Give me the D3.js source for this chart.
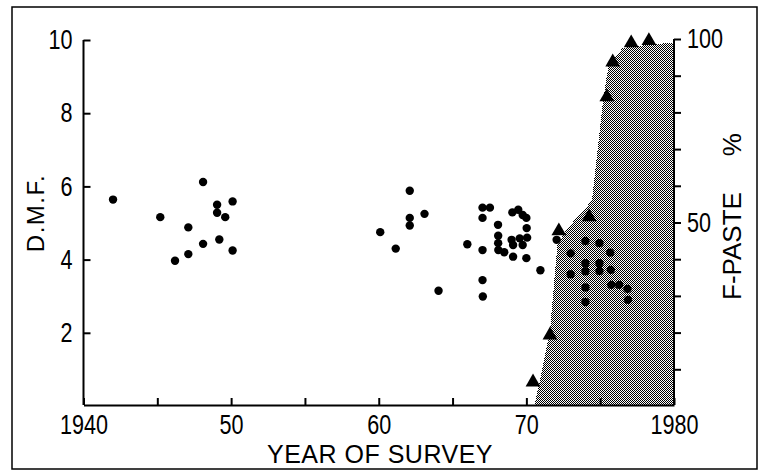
<!DOCTYPE html>
<html>
<head>
<meta charset="utf-8">
<script src="https://cdn.jsdelivr.net/npm/d3@7"></script>
<style>
  body { margin: 0; background: #fff; }
  svg { display: block; }
</style>
</head>
<body>
<div id="container"></div>
<script>
let w = 761;
let h = 473;

// D.M.F. per survey (filled dots)
let dmfYears = [1942.0, 1945.2, 1946.2, 1947.1, 1947.1, 1948.1, 1948.1, 1949.05, 1949.05, 1949.2, 1949.6, 1950.1, 1950.1,
  1960.1, 1961.15, 1962.1, 1962.1, 1962.1, 1963.1, 1964.05, 1966.0,
  1967.03, 1967.53, 1967.03, 1967.03, 1967.03, 1967.05, 1968.08, 1968.09, 1968.09, 1968.1, 1968.5,
  1969.05, 1969.45, 1969.75, 1970.0, 1970.02, 1969.0, 1969.55, 1970.05, 1969.1, 1969.75, 1969.1, 1970.0, 1970.95,
  1972.05, 1973.0, 1973.0, 1974.0, 1974.0, 1974.0, 1974.0, 1974.0, 1974.95, 1974.95, 1974.95,
  1975.68, 1975.72, 1975.75, 1976.28, 1976.85, 1976.88];
let dmfValues = [5.64, 5.16, 3.97, 4.88, 4.15, 6.12, 4.43, 5.50, 5.28, 4.55, 5.16, 5.59, 4.25,
  4.75, 4.30, 5.88, 5.14, 4.93, 5.25, 3.15, 4.42,
  5.42, 5.42, 5.14, 4.26, 3.44, 2.99, 4.95, 4.65, 4.45, 4.26, 4.20,
  5.29, 5.36, 5.22, 5.14, 4.86, 4.54, 4.58, 4.60, 4.40, 4.40, 4.08, 4.04, 3.71,
  4.54, 4.17, 3.60, 4.51, 3.90, 3.68, 3.24, 2.84, 4.45, 3.90, 3.69,
  4.19, 3.72, 3.31, 3.31, 3.20, 2.90];

// F-paste share (triangles, right axis)
let pasteYears = [1970.45, 1971.6, 1972.2, 1974.25, 1975.45, 1975.85, 1977.1, 1978.3];
let pastePct = [6.5, 19.3, 47.7, 51.5, 84.2, 93.7, 98.9, 99.5];

// outline of the shaded F-paste area
let shadeYears = [1970.55, 1971.6, 1972.1, 1972.8, 1974.45, 1975.2, 1975.55, 1976.5, 1978.3, 1980];
let shadePct = [0, 20.5, 44, 48.5, 56, 83.5, 92.5, 97.5, 98.5, 99];

let yearTicks = [1940, 1945, 1950, 1955, 1960, 1965, 1970, 1975, 1980];
let yearLabels = {1940: "1940", 1950: "50", 1960: "60", 1970: "70", 1980: "1980"};
let dmfTicks = [2, 4, 6, 8, 10];
let pasteTicks = [10, 20, 30, 40, 50, 60, 70, 80, 90, 100];
let pasteLabels = {50: "50", 100: "100"};

let plain = "'Liberation Sans', Arial, sans-serif";
let squeeze = 0.8; // tick digits are a narrow face in the original

let viz = d3.select("#container").append("svg")
    .attr("width", w)
    .attr("height", h)
    .style("background-color", "white");

// outer frame
viz.append("rect")
    .attr("x", 12).attr("y", 7)
    .attr("width", 745).attr("height", 462)
    .attr("fill", "none")
    .attr("stroke", "black")
    .attr("stroke-width", 1.5);

let x = d3.scaleLinear().domain([1940, 1980]).range([83.5, 674]);
let yL = d3.scaleLinear().domain([0, 10]).range([406, 40]);
let yR = d3.scaleLinear().domain([0, 100]).range([406, 39]);

// halftone pattern
let pat = viz.append("defs").append("pattern")
    .attr("id", "halftone")
    .attr("patternUnits", "userSpaceOnUse")
    .attr("width", 2).attr("height", 2);
pat.append("rect").attr("x", 0).attr("y", 0).attr("width", 1).attr("height", 1).attr("fill", "black");
pat.append("rect").attr("x", 1).attr("y", 1).attr("width", 1).attr("height", 1).attr("fill", "black");

let shadeData = shadeYears.map(function(d, i) { return {year: d, pct: shadePct[i]}; });
let areaMaker = d3.area()
    .x(function(d) { return x(d.year); })
    .y0(yR(0))
    .y1(function(d) { return yR(d.pct); });

viz.append("path")
    .datum(shadeData)
    .attr("d", areaMaker)
    .attr("fill", "url(#halftone)")
    .attr("shape-rendering", "crispEdges");

// axes
let xAxis = d3.axisBottom(x)
    .tickValues(yearTicks)
    .tickSize(-7)
    .tickSizeOuter(0)
    .tickPadding(10)
    .tickFormat(function(d) { return yearLabels[d] || ""; });

let leftAxis = d3.axisLeft(yL)
    .tickValues(dmfTicks)
    .tickSize(-7)
    .tickSizeOuter(0)
    .tickPadding(11 / squeeze)
    .tickFormat(d3.format("d"));

let rightAxis = d3.axisRight(yR)
    .tickValues(pasteTicks)
    .tickSize(7)
    .tickSizeOuter(0)
    .tickPadding(13 / squeeze - 7)
    .tickFormat(function(d) { return pasteLabels[d] || ""; });

let gx = viz.append("g").attr("transform", "translate(0," + 405 + ")").call(xAxis);
let gl = viz.append("g").attr("transform", "translate(" + 83.5 + ",0)").call(leftAxis);
let gr = viz.append("g").attr("transform", "translate(" + 674 + ",0)").call(rightAxis);

[gx, gl, gr].forEach(function(g) {
  g.selectAll("path, line").attr("stroke", "black").attr("stroke-width", 2);
  g.selectAll("text")
    .attr("fill", "black")
    .attr("transform", "scale(" + squeeze + ",1)")
    .style("font-family", plain)
    .style("font-size", "27px");
});
gl.select(".domain").attr("d", "M0," + yL(10) + "V" + 405);
gr.select(".domain").attr("d", "M0," + yR(100) + "V" + 405);

// dots
viz.append("g").selectAll("circle")
    .data(dmfYears)
    .enter()
    .append("circle")
      .attr("cx", function(d) { return x(d); })
      .attr("cy", function(d, i) { return yL(dmfValues[i]); })
      .attr("r", 4.2)
      .attr("fill", "black");

// triangles
viz.append("g").selectAll("path")
    .data(pasteYears)
    .enter()
    .append("path")
      .attr("d", d3.symbol(d3.symbolTriangle, 95))
      .attr("transform", function(d, i) {
        return "translate(" + x(d) + "," + yR(pastePct[i]) + ")";
      })
      .attr("fill", "black");

// axis titles
viz.append("text")
    .attr("x", 380).attr("y", 463)
    .attr("text-anchor", "middle")
    .style("font-family", plain)
    .style("font-size", "25px")
    .style("letter-spacing", "0.5px")
    .text("YEAR OF SURVEY");

viz.append("text")
    .attr("transform", "translate(44,213) rotate(-90)")
    .attr("text-anchor", "middle")
    .style("font-family", plain)
    .style("font-size", "24px")
    .style("letter-spacing", "1.5px")
    .text("D.M.F.");

let fp = viz.append("text")
    .attr("transform", "translate(741,300) rotate(-90)")
    .attr("text-anchor", "start")
    .style("font-family", plain)
    .style("font-size", "26px");
fp.append("tspan").text("F-PASTE");
fp.append("tspan").attr("dx", 36).text("%");
</script>
</body>
</html>
